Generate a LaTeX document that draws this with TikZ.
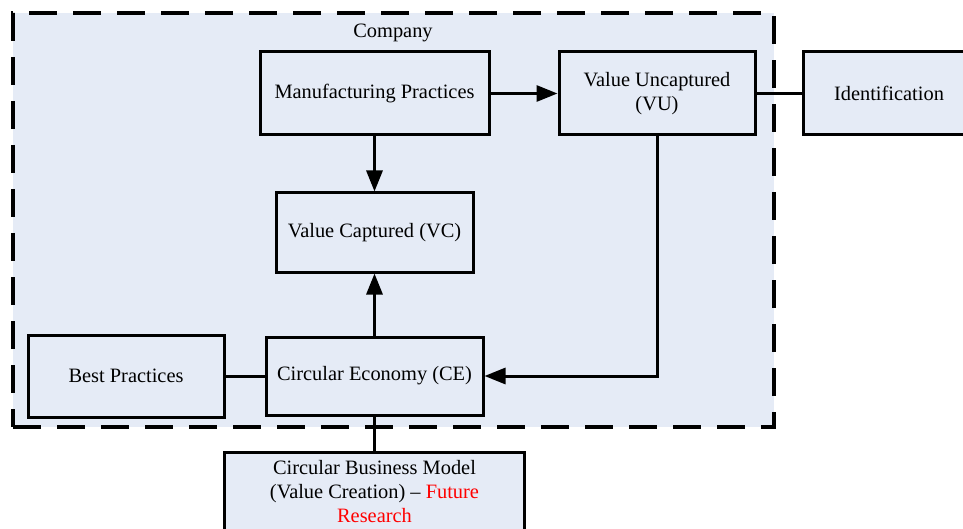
\documentclass[tikz,border=0pt]{standalone}
\usepackage{fontspec}
\setmainfont{Liberation Serif}
\usetikzlibrary{arrows.meta, positioning}
\definecolor{cfill}{HTML}{E5EBF6}
\definecolor{cred}{HTML}{FF0000}
\tikzset{
  every picture/.style={font=\fontsize{20.4}{24}\selectfont, line width=3pt},
  box/.style={draw=black, fill=cfill, align=center, inner sep=4pt},
  arrow/.style={-{Triangle[length=21pt, width=16pt]}, draw=black, line width=3pt},
  link/.style={draw=black, line width=3pt},
  frame/.style={draw=black, fill=cfill, dash pattern=on 28pt off 16pt, line width=3.5pt},
}

\begin{document}
\begin{tikzpicture}[x=1pt, y=-1pt]
  \useasboundingbox (0,0) rectangle (963,529);
  % dashed company frame
  \node[frame, minimum width=761pt, minimum height=414pt] (company) at (393.5, 220) {};
  \node (lbl) at (393, 33) {Company};
  % inside the company
  \node[box, minimum width=229pt, minimum height=83pt] (manu) at (374.5, 93.5) {Manufacturing Practices};
  \node[box, minimum width=196pt, minimum height=83pt] (vu) at (657, 93.5) {Value Uncaptured\\(VU)};
  \node[box, minimum width=197pt, minimum height=79pt] (vc) at (374.5, 232.5) {Value Captured (VC)};
  \node[box, minimum width=196pt, minimum height=82pt] (best) at (126, 376) {Best Practices};
  \node[box, minimum width=217pt, minimum height=78pt] (ce) at (374.5, 376) {Circular Economy (CE)};
  % outside
  \node[box, minimum width=172pt, minimum height=83pt] (ident) at (889, 93.5) {Identification};
  \node[box, minimum width=300pt, minimum height=80pt] (cbm) at (374.5, 492) {Circular Business Model\\(Value Creation) -- \textcolor{cred}{Future}\\\textcolor{cred}{Research}};
  % connectors
  \draw[arrow] (manu) -- (vu);
  \draw[arrow] (manu) -- (vc);
  \draw[link] (vu) -- (ident);
  \draw[arrow] (vu.south) |- (ce.east);
  \draw[arrow] (ce) -- (vc);
  \draw[link] (best) -- (ce);
  \draw[link] (ce) -- (cbm);
\end{tikzpicture}
\end{document}
